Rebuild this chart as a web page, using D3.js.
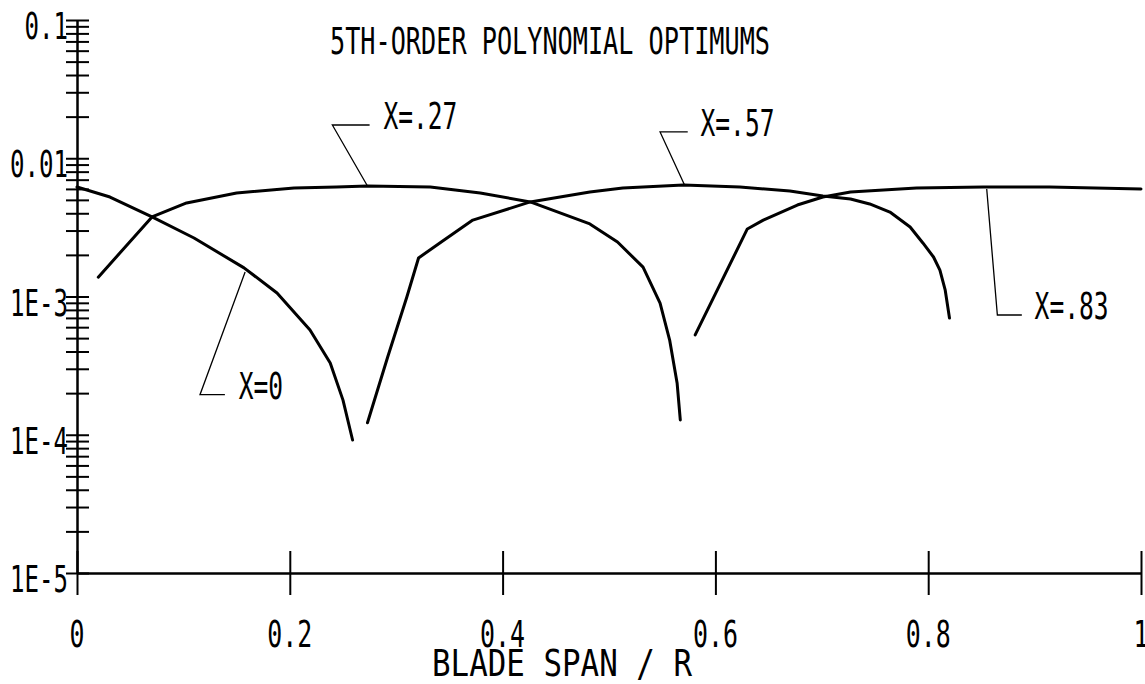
<!DOCTYPE html>
<html>
<head>
<meta charset="utf-8">
<script src="https://cdn.jsdelivr.net/npm/d3@7"></script>
<style>
  body { margin: 0; background: #fff; }
  svg text { font-family: "DejaVu Sans Mono", monospace; fill: #000; font-size: 38px; }
  .axis path, .axis line { stroke: #000; stroke-width: 2; }
  .curve { fill: none; stroke: #000; stroke-width: 3; stroke-linejoin: round; stroke-linecap: round; }
  .leader { fill: none; stroke: #000; stroke-width: 1.3; }
</style>
</head>
<body>
<div id="chart"></div>
<script>
// blade span / R  vs  error, one curve per optimum point X
const curveX0 = [[0, 0.00619], [0.031, 0.00524], [0.0705, 0.00376], [0.110, 0.00265], [0.157, 0.00161],
  [0.188, 0.00106], [0.219, 0.000573], [0.238, 0.000330], [0.250, 0.000178], [0.259, 0.0000916]];
const curveX27 = [[0.020, 0.00138], [0.0705, 0.00376], [0.103, 0.00475], [0.150, 0.00561], [0.204, 0.00609],
  [0.244, 0.00619], [0.273, 0.00630], [0.332, 0.00619], [0.379, 0.00561], [0.426, 0.00483], [0.482, 0.00335],
  [0.508, 0.00248], [0.532, 0.00163], [0.548, 0.000897], [0.557, 0.000484], [0.564, 0.000237], [0.567, 0.000128]];
const curveX57 = [[0.273, 0.000122], [0.292, 0.000365], [0.310, 0.000992], [0.321, 0.00190], [0.341, 0.00244],
  [0.372, 0.00357], [0.426, 0.00483], [0.482, 0.00570], [0.513, 0.00609], [0.570, 0.00640], [0.623, 0.00619],
  [0.670, 0.00580], [0.701, 0.00533], [0.727, 0.00507], [0.745, 0.00467], [0.764, 0.00408], [0.783, 0.00318],
  [0.795, 0.00244], [0.805, 0.00193], [0.811, 0.00155], [0.816, 0.00111], [0.820, 0.000699]];
const curveX83 = [[0.581, 0.000527], [0.630, 0.00308], [0.645, 0.00357], [0.677, 0.00459], [0.701, 0.00524],
  [0.727, 0.00570], [0.789, 0.00609], [0.852, 0.00619], [0.914, 0.00619], [1.0, 0.00599]];

const seriesNames = ["X=0", "X=.27", "X=.57", "X=.83"];

// leader lines: point on curve, elbow, end of the short stroke, then text start
const leaders = [
  [[0.158, 0.001504], [0.1156, 0.000195], [0.139, 0.000195], [0.152, 0.000195]],
  [[0.273, 0.0063], [0.240, 0.0174], [0.275, 0.0174], [0.288, 0.0174]],
  [[0.571, 0.0064], [0.548, 0.0155], [0.574, 0.0155], [0.586, 0.0155]],
  [[0.855, 0.00599], [0.865, 0.000735], [0.888, 0.000735], [0.900, 0.000735]]
];

const xTicks = [0, 0.2, 0.4, 0.6, 0.8, 1];
const xTickLabels = ["0", "0.2", "0.4", "0.6", "0.8", "1"];
const yDecades = [0.1, 0.01, 0.001, 0.0001, 0.00001];
const yTickLabels = ["0.1", "0.01", "1E-3", "1E-4", "1E-5"];

const titleText = "5TH-ORDER POLYNOMIAL OPTIMUMS";
const xAxisTitle = "BLADE SPAN / R";

const W = 1145, H = 684;
const margin = { top: 20, right: 4, bottom: 111, left: 77 };
const width = W - margin.left - margin.right;
const height = H - margin.top - margin.bottom;

const svg = d3.select("#chart").append("svg")
  .attr("width", W)
  .attr("height", H);

const g = svg.append("g")
  .attr("transform", `translate(${margin.left}, ${margin.top})`);

const x = d3.scaleLinear().domain([0, 1]).range([0, width]);
const y = d3.scaleLog().domain([1e-5, 0.1]).range([height, 0]);

// all log ticks 1..9 in each decade
const yMinor = [];
for (let e = -5; e < -1; e++) {
  for (let m = 1; m <= 9; m++) yMinor.push(m * Math.pow(10, e));
}
yMinor.push(0.1);

// y axis: ticks cross the line on both sides
g.append("g").attr("class", "axis")
  .call(d3.axisLeft(y).tickValues(yMinor).tickSize(11).tickSizeOuter(0).tickFormat(""));
g.append("g").attr("class", "axis")
  .call(d3.axisRight(y).tickValues(yMinor).tickSize(12).tickSizeOuter(0).tickFormat(""));

// x axis
g.append("g").attr("class", "axis")
  .attr("transform", `translate(0, ${height})`)
  .call(d3.axisBottom(x).tickValues(xTicks).tickSize(22).tickSizeOuter(0).tickFormat(""));
g.append("g").attr("class", "axis")
  .attr("transform", `translate(0, ${height})`)
  .call(d3.axisTop(x).tickValues(xTicks).tickSize(22).tickSizeOuter(0).tickFormat(""));

g.selectAll(".axis .domain").attr("stroke", "#000");

// tick labels (narrow plotter lettering)
g.selectAll(".ylab")
  .data(yDecades)
  .join("text")
  .attr("class", "ylab")
  .attr("x", -9)
  .attr("y", d => y(d) + 19)
  .attr("text-anchor", "end")
  .attr("textLength", (d, i) => yTickLabels[i].length * 14.5)
  .attr("lengthAdjust", "spacingAndGlyphs")
  .text((d, i) => yTickLabels[i]);

g.selectAll(".xlab")
  .data(xTicks)
  .join("text")
  .attr("class", "xlab")
  .attr("x", d => x(d))
  .attr("y", height + 74)
  .attr("text-anchor", "middle")
  .attr("textLength", (d, i) => xTickLabels[i].length * 15)
  .attr("lengthAdjust", "spacingAndGlyphs")
  .text((d, i) => xTickLabels[i]);

// curves (plotted as straight segments, like the pen plot)
const line = d3.line().x(d => x(d[0])).y(d => y(d[1]));
g.selectAll(".curve")
  .data([curveX0, curveX27, curveX57, curveX83])
  .join("path")
  .attr("class", "curve")
  .attr("d", line);

// leaders and labels
g.selectAll(".leader")
  .data(leaders)
  .join("path")
  .attr("class", "leader")
  .attr("d", d => line(d.slice(0, 3)));

g.selectAll(".serieslab")
  .data(leaders)
  .join("text")
  .attr("class", "serieslab")
  .attr("x", d => x(d[3][0]))
  .attr("y", d => y(d[3][1]) + 4)
  .attr("textLength", (d, i) => seriesNames[i].length * 14.8)
  .attr("lengthAdjust", "spacingAndGlyphs")
  .text((d, i) => seriesNames[i]);

// titles
svg.append("text")
  .attr("x", 330)
  .attr("y", 54)
  .attr("textLength", 440)
  .attr("lengthAdjust", "spacingAndGlyphs")
  .text(titleText);

svg.append("text")
  .attr("x", 432)
  .attr("y", 676)
  .attr("textLength", 260)
  .attr("lengthAdjust", "spacingAndGlyphs")
  .text(xAxisTitle);
</script>
</body>
</html>
